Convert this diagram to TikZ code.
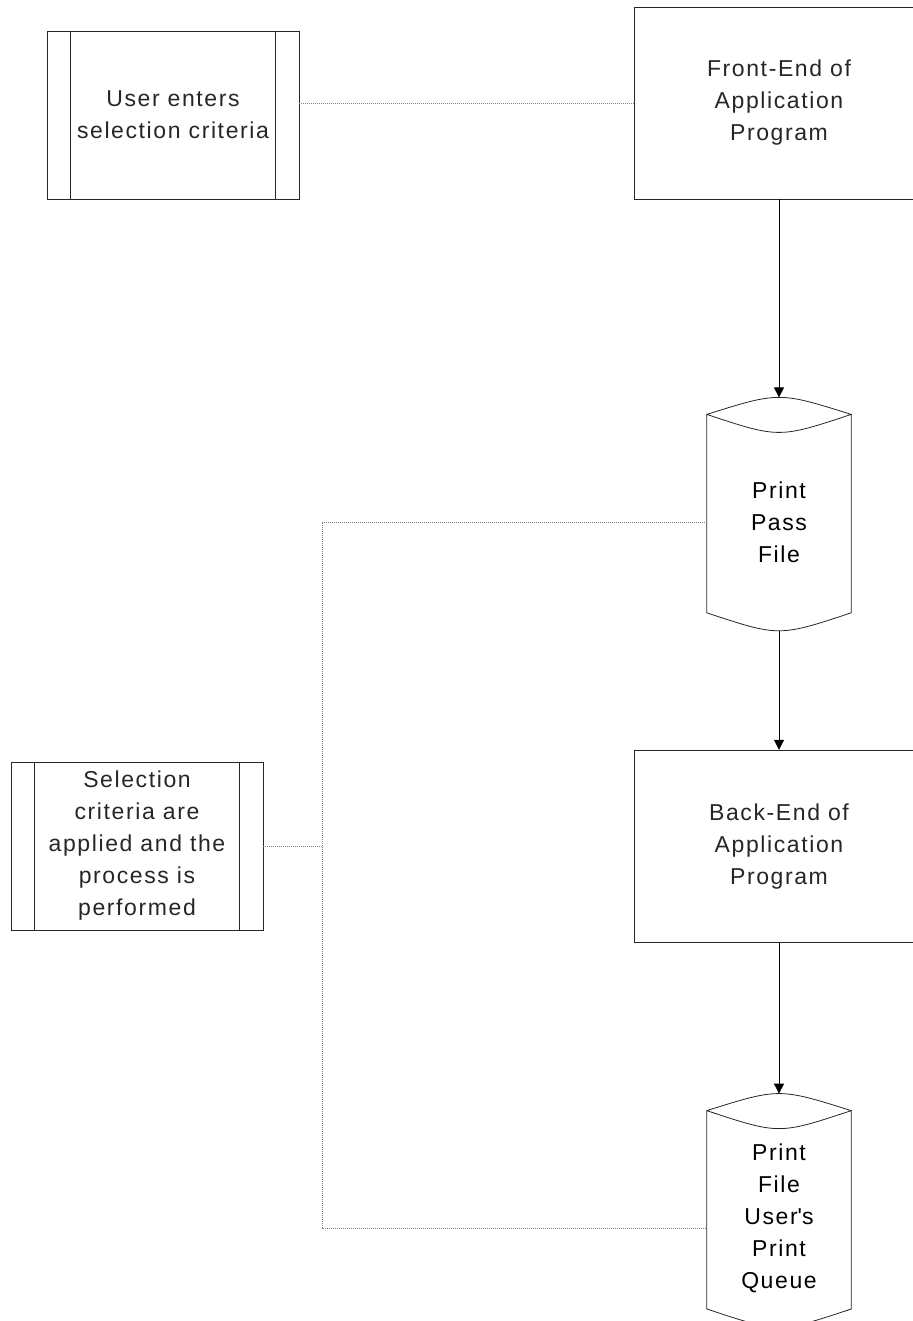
\documentclass[tikz,border=0pt]{standalone}
\usepackage{fontspec}
\setmainfont{Liberation Sans}[LetterSpace=7]
\usetikzlibrary{arrows.meta, positioning}

% outline of a stored file (cylinder with curved ends)
\newcommand{\drawfile}[1]{%
  \draw[outline] ([yshift=-1pt]#1.north west) .. controls ([yshift=21.7pt]#1.north) .. ([yshift=-1pt]#1.north east)
    .. controls ([yshift=-25pt]#1.north) .. ([yshift=-1pt]#1.north west)
    -- ([yshift=18pt]#1.south west) .. controls ([yshift=-6pt]#1.south) .. ([yshift=18pt]#1.south east)
    -- ([yshift=-1pt]#1.north east);
}
% side bars of a predefined process box
\newcommand{\drawbars}[1]{%
  \draw[outline] ([xshift=24pt]#1.north west) -- ([xshift=24pt]#1.south west);
  \draw[outline] ([xshift=-24pt]#1.north east) -- ([xshift=-24pt]#1.south east);
}

\begin{document}
\begin{tikzpicture}[x=1pt, y=-1pt,
    outline/.style = {line width=0.8pt, black!85},
    txt/.style = {align=center, font=\fontsize{23}{32}\selectfont},
    block/.style = {draw, outline, txt, minimum width=290pt, minimum height=192pt},
    subproc/.style = {draw, outline, txt, minimum width=252pt, minimum height=168pt, inner sep=0pt},
    file/.style = {txt, minimum width=144pt, minimum height=217pt, inner sep=0pt},
    flow/.style = {-{Triangle[length=10pt,width=10pt]}, line width=0.8pt},
    link/.style = {gray, line width=0.8pt, dash pattern=on 1pt off 1pt}]
    \useasboundingbox (0,0) rectangle (912,1321);

    \node[block] (fe) at (779,103) {Front-End of\\Application\\Program};
    \node[file, below=214pt of fe] (pp) {Print\\Pass\\File};
    \node[block, below=119pt of pp] (be) {Back-End of\\Application\\Program};
    \node[file, below=167pt of be] (pq) {Print\\File\\User\textquotesingle s\\Print\\Queue};

    \node[subproc] (ue) at (173,115) {User enters\\selection criteria};
    \node[subproc] (sc) at (137,846) {Selection\\criteria are\\applied and the\\process is\\performed};

    \drawfile{pp}
    \drawfile{pq}
    \drawbars{ue}
    \drawbars{sc}

    \coordinate (jtop) at (322,522);
    \coordinate (jbot) at (322,1228);

    \path[flow] (fe) edge ([yshift=16pt]pp.north);
    \path[flow] (pp) edge (be);
    \path[flow] (be) edge ([yshift=16pt]pq.north);

    \draw[link] (fe.west) -- (fe.west -| ue.east);
    \draw[link] (pp.west |- jtop) -- (jtop) -- (jbot) -- (pq.west |- jbot);
    \draw[link] (sc.east) -- (sc.east -| jtop);
\end{tikzpicture}
\end{document}
